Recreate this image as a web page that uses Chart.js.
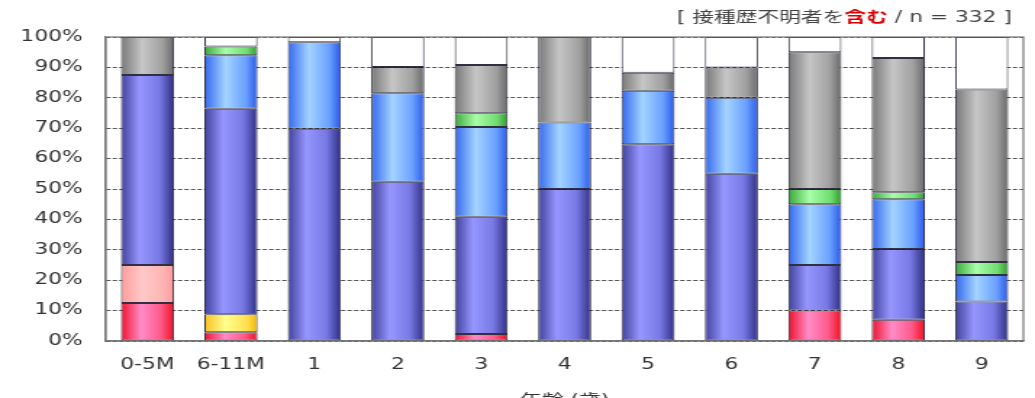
<!DOCTYPE html>
<html><head><meta charset="utf-8">
<script src="https://cdn.jsdelivr.net/npm/chart.js@4/dist/chart.umd.min.js"></script>
<style>
html,body{margin:0;padding:0;background:#fff;overflow:hidden}
</style>
</head><body>
<canvas id="c" width="714" height="398" style="display:block;width:1035px;height:398px"></canvas>
<script>
// ---- data (percent of each age group) ----
const categories = ['0-5M','6-11M','1','2','3','4','5','6','7','8','9'];
const yTickLabels = ['0%','10%','20%','30%','40%','50%','60%','70%','80%','90%','100%'];
const xTitle = '年齢 (歳)';
const noteBefore = '[ 接種歴不明者を';
const noteEmph = '含む';
const noteAfter = ' / n = 332 ]';

const seriesRed    = [12.5, 2.9, null, null, 2.3, null, null, null, 10.0, 7.0, null];
const seriesPink   = [12.5, null, null, null, null, null, null, null, null, null, null];
const seriesYellow = [null, 5.9, null, null, null, null, null, null, null, null, null];
const seriesBlue   = [62.5, 67.6, 69.8, 52.4, 38.6, 50.0, 64.7, 55.0, 15.0, 23.3, 13.0];
const seriesLight  = [null, 17.6, 28.5, 29.1, 29.5, 21.9, 17.6, 25.0, 20.0, 16.3, 8.7];
const seriesGreen  = [null, 2.9, null, null, 4.5, null, null, null, 5.0, 2.3, 4.3];
const seriesGray   = [12.5, null, null, 8.6, 15.9, 28.1, 5.9, 10.0, 45.0, 44.2, 56.7];
const seriesBlank  = [null, 3.1, 1.7, 9.9, 9.2, null, 11.8, 10.0, 5.0, 6.9, 17.3];

const BAR_PCT = 0.636;
const FONT = '"DejaVu Sans", "Noto Sans CJK JP", sans-serif';

function hGrad(stops) {
  return (ctx) => {
    const chart = ctx.chart;
    if (ctx.type !== 'data' || !chart.chartArea) return stops[1][1];
    const xs = chart.scales.x;
    const cx = xs.getPixelForValue(ctx.dataIndex);
    const half = xs.width / categories.length * BAR_PCT / 2;
    const g = chart.ctx.createLinearGradient(cx - half, 0, cx + half, 0);
    stops.forEach(([o, c]) => g.addColorStop(o, c));
    return g;
  };
}

const styles = {
  red:    [[0,'#f0102a'],[0.38,'#ff8cc8'],[0.75,'#ff5a8c'],[1,'#f01020']],
  pink:   [[0,'#ff9c9c'],[0.4,'#ffc8c8'],[0.8,'#ffb4b4'],[1,'#ff9898']],
  yellow: [[0,'#f8c020'],[0.4,'#ffff90'],[0.8,'#ffe050'],[1,'#f4b800']],
  blue:   [[0,'#40409c'],[0.35,'#9696ff'],[0.72,'#7a7ae6'],[1,'#2e2e84']],
  light:  [[0,'#3366ee'],[0.4,'#a4d4ff'],[0.78,'#6aa0ff'],[1,'#2a58e8']],
  green:  [[0,'#3aa83a'],[0.4,'#a8ffa8'],[0.8,'#70dc70'],[1,'#2e9a2e']],
  gray:   [[0,'#787878'],[0.4,'#c6c6c6'],[0.78,'#a0a0a0'],[1,'#686868']],
};

function ds(label, data, stops, fill) {
  return {
    label, data,
    backgroundColor: stops ? hGrad(stops) : fill,
    borderColor: 'rgba(25,25,45,0.9)',
    borderWidth: 1,
    borderSkipped: false,
    barPercentage: BAR_PCT,
    categoryPercentage: 1.0,
  };
}

const frame = {
  id: 'frame',
  afterDatasetsDraw(chart) {
    const {ctx, chartArea: a} = chart;
    ctx.save();
    ctx.strokeStyle = '#777';
    ctx.lineWidth = 1.2;
    ctx.strokeRect(a.left, a.top, a.right - a.left, a.bottom - a.top);
    ctx.restore();
  },
  afterDraw(chart) {
    const ctx = chart.ctx;
    ctx.save();
    const normal = '15px ' + FONT;
    const bold = 'bold 15px ' + FONT;
    const parts = [[noteBefore, normal, '#444'], [noteEmph, bold, '#e00000'], [noteAfter, normal, '#444']];
    let total = 0;
    parts.forEach(p => { ctx.font = p[1]; p.push(ctx.measureText(p[0]).width); total += p[3]; });
    let x = 698 - total;
    ctx.textBaseline = 'middle';
    ctx.textAlign = 'left';
    parts.forEach(p => { ctx.font = p[1]; ctx.fillStyle = p[2]; ctx.fillText(p[0], x, 18); x += p[3]; });
    ctx.restore();
  }
};

new Chart(document.getElementById('c'), {
  type: 'bar',
  data: {
    labels: categories,
    datasets: [
      ds('区分A', seriesRed, styles.red),
      ds('区分B', seriesPink, styles.pink),
      ds('区分C', seriesYellow, styles.yellow),
      ds('区分D', seriesBlue, styles.blue),
      ds('区分E', seriesLight, styles.light),
      ds('区分F', seriesGreen, styles.green),
      ds('接種歴不明', seriesGray, styles.gray),
      ds('その他', seriesBlank, null, '#ffffff'),
    ]
  },
  options: {
    responsive: false,
    animation: false,
    devicePixelRatio: 1,
    layout: { padding: { top: 37, right: 8, left: 0, bottom: 0 } },
    plugins: { legend: { display: false }, tooltip: { enabled: false } },
    scales: {
      x: {
        stacked: true,
        grid: { display: false, drawTicks: false },
        border: { display: true, color: '#777', width: 1.2 },
        ticks: { color: '#333', font: { family: FONT, size: 15 }, padding: 15, maxRotation: 0, autoSkip: false },
        title: { display: true, text: xTitle, color: '#333', font: { family: FONT, size: 15 }, padding: { top: 0, bottom: -12 } },
        afterFit: (s) => { s.height = 57; }
      },
      y: {
        stacked: true,
        min: 0, max: 100,
        grid: { color: '#555', lineWidth: 1, drawTicks: false },
        border: { display: true, color: '#777', width: 1.2, dash: [3, 1.5] },
        ticks: {
          stepSize: 10, padding: 16, color: '#333', font: { family: FONT, size: 15 },
          callback: (v, i) => yTickLabels[i]
        },
        afterFit: (s) => { s.width = 73; }
      }
    }
  },
  plugins: [frame]
});
</script>
</body></html>
